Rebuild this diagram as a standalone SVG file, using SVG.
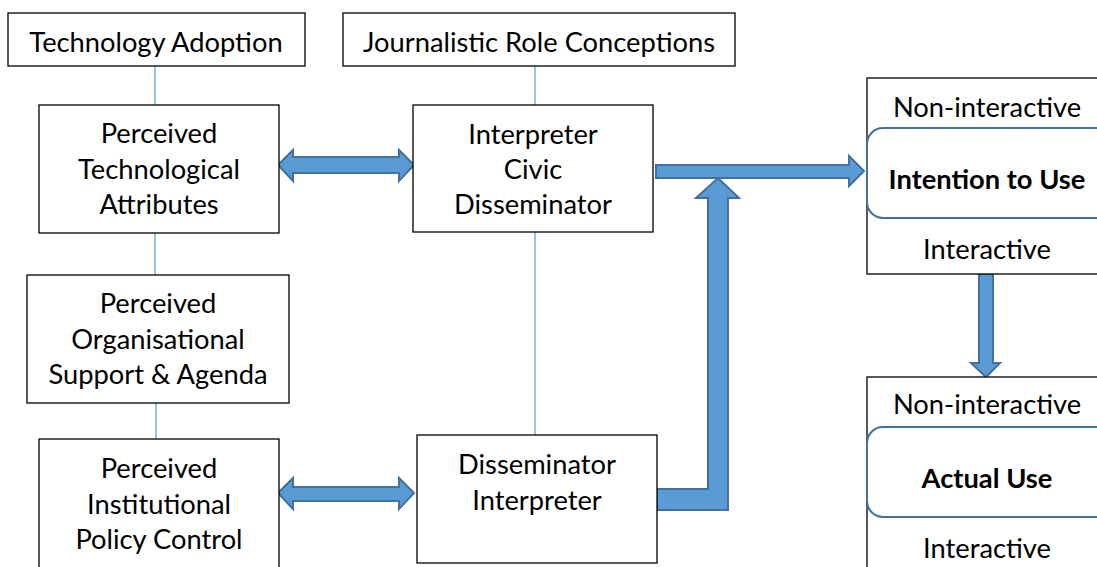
<svg xmlns="http://www.w3.org/2000/svg" width="1097" height="567" viewBox="0 0 1097 567">
  <style>
    .box { fill: #ffffff; stroke: #000000; stroke-width: 1.3; }
    .rbox { fill: #ffffff; stroke: #41719c; stroke-width: 2; }
    .link { stroke: #5b9bd5; stroke-width: 1.2; fill: none; }
    .arrow { fill: #5b9bd5; stroke: #41719c; stroke-width: 2; stroke-linejoin: miter; }
    text { font-family: Lato, "Liberation Sans", sans-serif; font-size: 27.3px; fill: #000000; text-anchor: middle; }
    .b { font-weight: bold; }
  </style>
  <rect width="1097" height="567" fill="#ffffff"/>

  <!-- thin connectors and block arrows -->
  <g id="connectors">
    <line class="link" x1="155" y1="66" x2="155" y2="105"/>
    <line class="link" x1="155" y1="233" x2="155" y2="275"/>
    <line class="link" x1="156" y1="403" x2="156" y2="439"/>
    <line class="link" x1="535" y1="66" x2="535" y2="105"/>
    <line class="link" x1="535" y1="232" x2="535" y2="435"/>
    <!-- double arrow: technological attributes <-> role conceptions -->
    <path class="arrow" d="M278,165 L293,150 L293,157 L399,157 L399,150 L414,165 L399,181 L399,173 L293,173 L293,181 Z"/>
    <!-- double arrow: institutional policy <-> disseminator -->
    <path class="arrow" d="M278,493 L293,478 L293,487 L399,487 L399,478 L414,493 L399,509 L399,501 L293,501 L293,509 Z"/>
    <!-- arrow to intention to use -->
    <path class="arrow" d="M656,165 L849,165 L849,156 L864,171 L849,186 L849,178 L656,178 Z"/>
    <!-- bent arrow from disseminator up into the main arrow -->
    <path class="arrow" d="M657,489 L708,489 L708,198 L696,198 L718,178 L739,198 L728,198 L728,510 L657,510 Z"/>
    <!-- intention to use -> actual use -->
    <path class="arrow" d="M979,274 L993,274 L993,363 L1000,363 L986,377 L971,363 L979,363 Z"/>
  </g>

  <g id="technology-adoption">
    <rect class="box" x="8" y="13" width="297" height="53"/>
    <text x="156" y="52">Technology Adoption</text>
  </g>

  <g id="role-conceptions">
    <rect class="box" x="343" y="13" width="392" height="53"/>
    <text x="539" y="52">Journalistic Role Conceptions</text>
  </g>

  <g id="technological-attributes">
    <rect class="box" x="39" y="105" width="240" height="128"/>
    <text x="159" y="143">Perceived</text>
    <text x="159" y="179">Technological</text>
    <text x="159" y="214">Attributes</text>
  </g>

  <g id="organisational-support">
    <rect class="box" x="27" y="275" width="262" height="128"/>
    <text x="158" y="313">Perceived</text>
    <text x="158" y="349">Organisational</text>
    <text x="158" y="384">Support &amp; Agenda</text>
  </g>

  <g id="institutional-policy">
    <rect class="box" x="39" y="439" width="240" height="135"/>
    <text x="159" y="478">Perceived</text>
    <text x="159" y="514">Institutional</text>
    <text x="159" y="549">Policy Control</text>
  </g>

  <g id="interpreter-civic">
    <rect class="box" x="413" y="105" width="240" height="127"/>
    <text x="533" y="144">Interpreter</text>
    <text x="533" y="179">Civic</text>
    <text x="533" y="214">Disseminator</text>
  </g>

  <g id="disseminator-interpreter">
    <rect class="box" x="417" y="435" width="240" height="128"/>
    <text x="537" y="474">Disseminator</text>
    <text x="537" y="510">Interpreter</text>
  </g>

  <g id="intention-to-use">
    <rect class="box" x="867" y="78" width="240" height="196"/>
    <rect class="rbox" x="867" y="128" width="245" height="90" rx="16" ry="16"/>
    <text x="987" y="117">Non-interactive</text>
    <text class="b" x="987" y="189">Intention to Use</text>
    <text x="987" y="259">Interactive</text>
  </g>

  <g id="actual-use">
    <rect class="box" x="867" y="377" width="240" height="200"/>
    <rect class="rbox" x="867" y="427" width="245" height="90" rx="16" ry="16"/>
    <text x="987" y="414">Non-interactive</text>
    <text class="b" x="987" y="488">Actual Use</text>
    <text x="987" y="558">Interactive</text>
  </g>
</svg>
